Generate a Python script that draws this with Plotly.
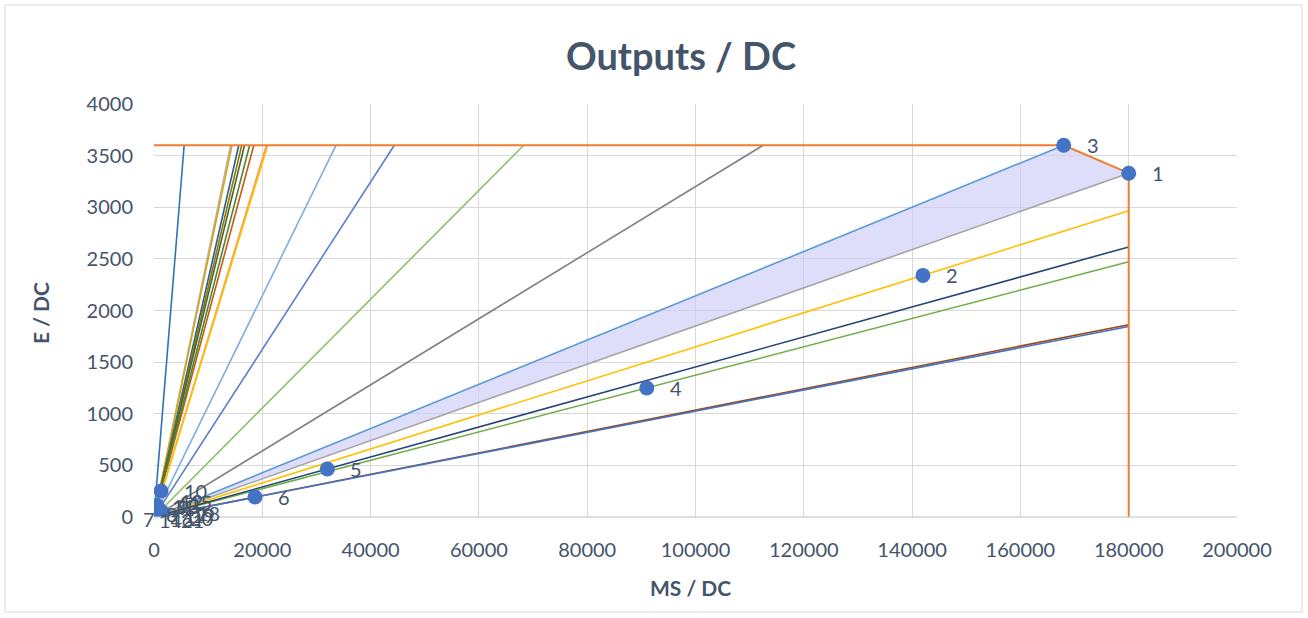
import plotly.graph_objects as go

# DMU identifiers and their two-dimensional output per DC
dmu = ["1", "2", "3", "4", "5", "6", "7", "8", "9", "10", "11",
       "12", "13", "14", "15", "16", "17", "18", "19", "20", "21"]
ms_dc = [180000, 142000, 168000, 91000, 32000, 18650, 150, 420, 380, 1290, 300,
         450, 520, 260, 600, 350, 700, 900, 1100, 1500, 1200]
e_dc = [3330, 2340, 3600, 1250, 465, 193, 97, 107, 95, 252, 69,
        100, 112, 53, 104, 60, 75, 73, 58, 48, 12.3]

# Ray colour for each DMU (same order as above)
ray_colors = ["#A5A5A5", "#FFC000", "#5B9BD5", "#70AD47", "#264478", "#9E480E",
              "#2E75B6", "#B4B4B4", "#D4A514", "#C55A11", "#255E91", "#997300",
              "#43682B", "#548235", "#F1975A", "#FFC000", "#7CAFDD", "#5B7FC9",
              "#8CC168", "#808080", "#4472C4"]

# Label offsets in pixels (x, y) relative to each point
label_dx = [21, 21, 21, 21, 21, 21, -14, 8, 20, 21, 14,
            22, 18, 2, 30, 12, 24, 36, 30, 26, 18]
label_dy = [0, 0, 0, 0, 0, 0, -12, -8, 0, 0, 4,
            6, 0, -8, 4, -8, -6, -4, -4, -6, -4]

x_ticks = list(range(0, 200001, 20000))
x_tick_text = [str(v) for v in x_ticks]
y_ticks = list(range(0, 4001, 500))

TXT = "#44546A"
FONT = "Lato"

# Frontier box limits come from the best values on each output
x_max = max(ms_dc)
y_max = max(e_dc)
i_top = e_dc.index(y_max)      # DMU reaching the top output E
i_right = ms_dc.index(x_max)   # DMU reaching the top output MS

fig = go.Figure()

# Shaded cone between the rays through the two frontier DMUs
fig.add_trace(go.Scatter(
    x=[0, ms_dc[i_top], ms_dc[i_right], 0],
    y=[0, e_dc[i_top], e_dc[i_right], 0],
    fill="toself", fillcolor="rgba(205,205,247,0.65)",
    line=dict(width=0), mode="lines", hoverinfo="skip", showlegend=False))

# Rays from the origin through each DMU, stopped at the frontier box
for x, y, c in zip(ms_dc, e_dc, ray_colors):
    t = min(x_max / x, y_max / y)
    fig.add_trace(go.Scatter(
        x=[0, x * t], y=[0, y * t], mode="lines",
        line=dict(color=c, width=1.6), hoverinfo="skip", showlegend=False))

# Efficient frontier
fig.add_trace(go.Scatter(
    x=[0, ms_dc[i_top], ms_dc[i_right], ms_dc[i_right]],
    y=[y_max, e_dc[i_top], e_dc[i_right], 0],
    mode="lines", line=dict(color="#ED7D31", width=2),
    hoverinfo="skip", showlegend=False))

# DMU points
fig.add_trace(go.Scatter(
    x=ms_dc, y=e_dc, mode="markers",
    marker=dict(color="#4472C4", size=15, line=dict(width=0)),
    showlegend=False))

# Data labels to the right of each point
for x, y, name, dx, dy in zip(ms_dc, e_dc, dmu, label_dx, label_dy):
    fig.add_annotation(x=x, y=y, text=name, showarrow=False,
                       xanchor="left", yanchor="middle", xshift=dx, yshift=dy,
                       font=dict(family=FONT, size=20, color=TXT))

axis_common = dict(
    showgrid=True, gridcolor="#D9D9D9", gridwidth=1,
    zeroline=False, showline=False,
    ticks="outside", tickcolor="rgba(0,0,0,0)",
    tickfont=dict(family=FONT, size=20, color=TXT),
    fixedrange=True)

fig.update_xaxes(range=[0, 200000], tickvals=x_ticks, ticktext=x_tick_text,
                 ticklen=15, **axis_common)
fig.update_yaxes(range=[0, 4000], tickvals=y_ticks, ticklen=16,
                 **axis_common)

fig.update_layout(
    width=1308, height=618,
    margin=dict(l=154, r=71, t=104, b=101),
    paper_bgcolor="white", plot_bgcolor="white",
    title=dict(text="<b>Outputs / DC</b>", x=681 / 1308, xanchor="center",
               xref="container", y=1 - 57 / 618, yanchor="middle",
               yref="container", font=dict(family=FONT, size=38, color=TXT)),
    showlegend=False,
)

# Axis titles
fig.add_annotation(xref="paper", yref="paper", x=(690 - 154) / 1083,
                   y=(517 - 587) / 413, text="<b>MS / DC</b>",
                   showarrow=False, xanchor="center", yanchor="middle",
                   font=dict(family=FONT, size=21, color=TXT))
fig.add_annotation(xref="paper", yref="paper", x=(40 - 154) / 1083,
                   y=(517 - 313) / 413, text="<b>E / DC</b>", textangle=-90,
                   showarrow=False, xanchor="center", yanchor="middle",
                   font=dict(family=FONT, size=21, color=TXT))

# Bottom axis line
fig.add_shape(type="line", xref="paper", yref="paper", x0=0, x1=1, y0=0, y1=0,
              line=dict(color="#BFBFBF", width=1.2))

# Chart area border
fig.add_shape(type="rect", xref="paper", yref="paper",
              x0=(5 - 154) / 1083, x1=(1302 - 154) / 1083,
              y0=(517 - 612) / 413, y1=(517 - 5) / 413,
              line=dict(color="#D9D9D9", width=1), layer="below")

fig.write_html("out.html")
